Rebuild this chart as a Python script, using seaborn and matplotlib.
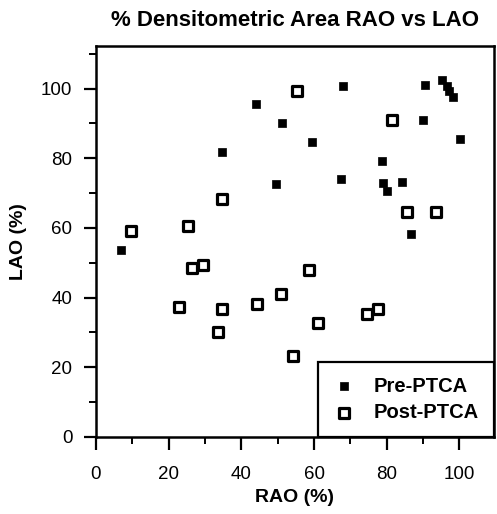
import matplotlib
matplotlib.use("Agg")
import matplotlib.pyplot as plt
from matplotlib.ticker import MultipleLocator
import seaborn as sns
import pandas as pd

# Pre-PTCA (filled squares)
pre_rao = [7.0, 44.0, 51.2, 34.8, 49.5, 67.9, 59.4, 67.4, 78.7, 78.9,
           80.1, 84.2, 90.1, 90.6, 95.2, 96.6, 97.1, 98.2, 100.2, 86.7]
pre_lao = [53.6, 95.7, 90.0, 81.8, 72.6, 100.8, 84.8, 74.0, 79.3, 72.8,
           70.5, 73.3, 90.9, 101.0, 102.5, 100.8, 99.2, 97.5, 85.5, 58.2]

# Post-PTCA (open squares)
post_rao = [9.7, 25.4, 34.8, 55.2, 81.5, 85.5, 93.6, 26.3, 29.5, 22.9,
            34.8, 33.6, 44.2, 50.9, 58.7, 61.0, 74.6, 77.5, 54.1]
post_lao = [59.1, 60.6, 68.2, 99.4, 90.9, 64.7, 64.7, 48.6, 49.3, 37.4,
            36.6, 30.2, 38.1, 40.9, 47.9, 32.6, 35.4, 36.8, 23.2]

df = pd.concat([
    pd.DataFrame({"RAO": pre_rao, "LAO": pre_lao, "Group": "Pre-PTCA"}),
    pd.DataFrame({"RAO": post_rao, "LAO": post_lao, "Group": "Post-PTCA"}),
])

sns.set_style("ticks")
plt.rcParams["font.family"] = ["Liberation Sans", "DejaVu Sans"]
plt.rcParams["text.color"] = "black"
plt.rcParams["axes.labelcolor"] = "black"

fig = plt.figure(figsize=(4.97, 5.14), dpi=100)
ax = fig.add_axes([0.193, 0.150, 0.801, 0.761])

sns.scatterplot(
    data=df[df["Group"] == "Pre-PTCA"], x="RAO", y="LAO", marker="s",
    s=34, color="black", edgecolor="black", linewidth=0.5,
    label="Pre-PTCA", ax=ax, zorder=3
)
sns.scatterplot(
    data=df[df["Group"] == "Post-PTCA"], x="RAO", y="LAO", marker="s",
    s=55, facecolor="white", edgecolor="black", linewidth=2.3,
    label="Post-PTCA", ax=ax, zorder=3
)

ax.set_xlim(0, 109.5)
ax.set_ylim(0, 112.3)
ax.xaxis.set_major_locator(MultipleLocator(20))
ax.xaxis.set_minor_locator(MultipleLocator(10))
ax.yaxis.set_major_locator(MultipleLocator(20))
ax.yaxis.set_minor_locator(MultipleLocator(10))
ax.tick_params(which="major", length=9, width=1.6, labelsize=13.5,
               colors="black", direction="out")
ax.tick_params(axis="x", which="major", pad=12)
ax.tick_params(axis="y", which="major", pad=8)
ax.tick_params(which="minor", length=5, width=1.4, direction="out",
               colors="black")
for sp in ax.spines.values():
    sp.set_visible(True)
    sp.set_linewidth(1.8)
    sp.set_color("black")

ax.set_title("% Densitometric Area RAO vs LAO", fontsize=16,
             fontweight="bold", pad=14)
ax.set_xlabel("RAO (%)", fontsize=14, fontweight="bold", labelpad=4)
ax.set_ylabel("LAO (%)", fontsize=14, fontweight="bold", labelpad=10)
ax.grid(False)

leg = ax.legend(loc="lower right", borderaxespad=0, frameon=True,
                fancybox=False, edgecolor="black", framealpha=1,
                prop={"weight": "bold", "size": 14.5},
                handletextpad=1.0, borderpad=0.75, labelspacing=0.35,
                handlelength=1.0)
leg.get_frame().set_linewidth(1.6)

fig.savefig("out.png", dpi=100)
